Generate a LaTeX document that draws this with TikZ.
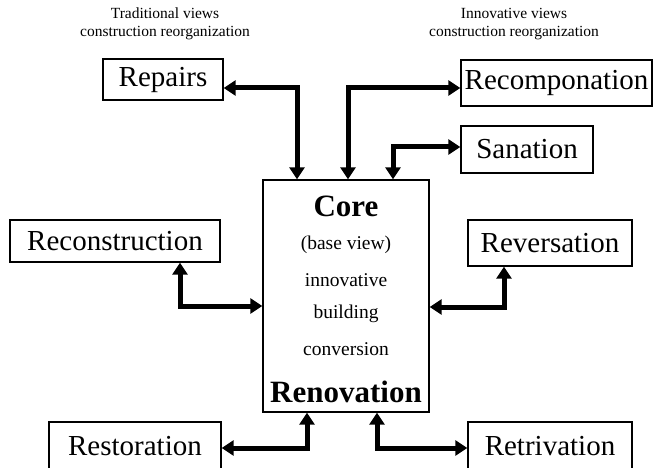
\documentclass[tikz,border=0pt]{standalone}
\usepackage{fontspec}
\setmainfont{Liberation Serif}
\usetikzlibrary{arrows.meta}
\tikzset{
  box/.style={draw, line width=1.4pt, inner sep=0pt, font=\fontsize{29}{29}\selectfont},
  dbl/.style={{Triangle[length=12pt,width=15pt]}-{Triangle[length=12pt,width=15pt]}, line width=5pt},
  head/.style={align=center, inner sep=0pt, font=\fontsize{15.5}{18}\selectfont},
  coretxt/.style={inner sep=0pt, font=\fontsize{19.5}{20}\selectfont},
  corebold/.style={inner sep=0pt, font=\fontsize{31}{31}\selectfont\bfseries}
}
\begin{document}
\begin{tikzpicture}[x=1pt,y=-1pt]
\useasboundingbox (0,0) rectangle (656,468);
% headings
\node[head] (trad) at (165,24) {Traditional views\\construction reorganization};
\node[head] (innov) at (514,24) {Innovative views\\construction reorganization};
% core
\node[draw, line width=1.4pt, minimum width=166pt, minimum height=232pt, inner sep=0pt] (core) at (346,296) {};
\node[corebold] (coreT) at (346,206) {Core};
\node[coretxt] (base) at (346,245) {(base view)};
\node[coretxt] (innovT) at (346,280) {innovative};
\node[coretxt] (build) at (346,314) {building};
\node[coretxt] (conv) at (346,349) {conversion};
\node[corebold] (renov) at (346,392) {Renovation};
% boxes
\node[box, minimum width=120pt, minimum height=41pt] (repairs) at (163,79.5) {Repairs};
\node[box, minimum width=191pt, minimum height=46pt] (recomp) at (556.5,83) {Recomponation};
\node[box, minimum width=132pt, minimum height=47pt] (sanation) at (527,149.5) {Sanation};
\node[box, minimum width=210pt, minimum height=42pt] (recon) at (115,241) {Reconstruction};
\node[box, minimum width=164pt, minimum height=46pt] (revers) at (550,243) {Reversation};
\node[box, minimum width=172pt, minimum height=48pt] (restor) at (135,446) {Restoration};
\node[box, minimum width=164pt, minimum height=48pt] (retriv) at (550,446) {Retrivation};
% bend points
\coordinate (c1) at (297,88);
\coordinate (c2) at (348,88);
\coordinate (c3) at (393,147);
\coordinate (c4) at (180,306);
\coordinate (c5) at (504,307);
\coordinate (c6) at (307,448);
\coordinate (c7) at (377,448);
% connectors
\draw[dbl] (repairs.east |- c1) -- (c1) -- (core.north -| c1);
\draw[dbl] (core.north -| c2) -- (c2) -- (recomp.west |- c2);
\draw[dbl] (core.north -| c3) -- (c3) -- (sanation.west |- c3);
\draw[dbl] (recon.south -| c4) -- (c4) -- (core.west |- c4);
\draw[dbl] (revers.south -| c5) -- (c5) -- (core.east |- c5);
\draw[dbl] (core.south -| c6) -- (c6) -- (restor.east |- c6);
\draw[dbl] (core.south -| c7) -- (c7) -- (retriv.west |- c7);
\end{tikzpicture}
\end{document}
